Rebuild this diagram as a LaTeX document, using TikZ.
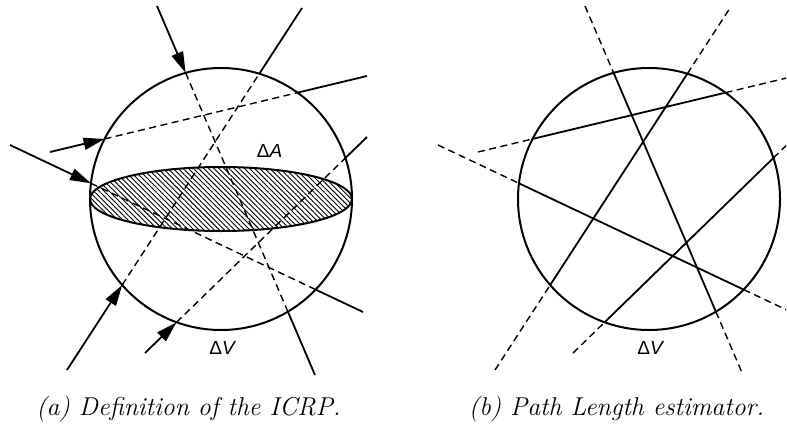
\documentclass[tikz,border=0pt]{standalone}
\usepackage{fontspec}
\newfontfamily\lsans{Liberation Sans}
\usetikzlibrary{arrows.meta,patterns,patterns.meta,intersections}
\begin{document}
\begin{tikzpicture}[x=1pt,y=-1pt,
  ray/.style={line width=1.8pt},
  hid/.style={line width=1.4pt, dash pattern=on 7pt off 4.5pt},
  arr/.style={-{Triangle[length=21pt,width=12pt]}},
  ball/.style={line width=2pt},
  lbl/.style={font=\lsans\fontsize{19}{22}\selectfont, anchor=base, inner sep=0pt},
  captxt/.style={font=\fontsize{25.8}{30}\selectfont\itshape, anchor=base, inner sep=0pt}]
\useasboundingbox (0,0) rectangle (787,423);

% ---------- (a) ----------
\coordinate (C1) at (221,199);
\coordinate (a1) at (157,6);   \coordinate (b1) at (315,375);
\coordinate (a2) at (67,370);  \coordinate (b2) at (302,8);
\coordinate (a3) at (50,152);  \coordinate (b3) at (367,76);
\coordinate (a4) at (10,145);  \coordinate (b4) at (363,312);
\coordinate (a5) at (145,353); \coordinate (b5) at (367,137);
\path[name path=cA] (C1) circle[radius=131];
\path[name path=pA] (a1) -- (b1);
\path[name path=pB] (a2) -- (b2);
\path[name path=pC] (a3) -- (b3);
\path[name path=pD] (a4) -- (b4);
\path[name path=pE] (a5) -- (b5);
\path[name intersections={of=pA and cA, sort by=pA, by={i1,o1}}];
\path[name intersections={of=pB and cA, sort by=pB, by={i2,o2}}];
\path[name intersections={of=pC and cA, sort by=pC, by={i3,o3}}];
\path[name intersections={of=pD and cA, sort by=pD, by={i4,o4}}];
\path[name intersections={of=pE and cA, sort by=pE, by={i5,o5}}];
\draw[ball] (C1) circle[radius=131];
\draw[ball, pattern={Lines[angle=-45,distance=3.6pt,line width=0.9pt]}] (C1) ellipse[x radius=131, y radius=32];
\foreach \k in {1,...,5}{
  \draw[ray,arr] (a\k) -- (i\k);
  \draw[hid] (i\k) -- (o\k);
  \draw[ray] (o\k) -- (b\k);
}
\node[lbl] (dA) at (269.5,157) {Δ\itshape A};
\node[lbl] (dV1) at (222,354) {Δ\itshape V};
\node[captxt] (capa) at (188.5,415) {(a) Definition of the ICRP.};

% ---------- (b) ----------
\begin{scope}[xshift=428pt]
\clip (-428,0) rectangle (358,423);
\coordinate (C2) at (221,199);
\coordinate (A1) at (157,6);   \coordinate (B1) at (315,375);
\coordinate (A2) at (67,370);  \coordinate (B2) at (302,8);
\coordinate (A3) at (50,152);  \coordinate (B3) at (367,76);
\coordinate (A4) at (10,145);  \coordinate (B4) at (363,312);
\coordinate (A5) at (145,353); \coordinate (B5) at (367,137);
\path[name path=cB] (C2) circle[radius=131];
\path[name path=qA] (A1) -- (B1);
\path[name path=qB] (A2) -- (B2);
\path[name path=qC] (A3) -- (B3);
\path[name path=qD] (A4) -- (B4);
\path[name path=qE] (A5) -- (B5);
\path[name intersections={of=qA and cB, sort by=qA, by={I1,O1}}];
\path[name intersections={of=qB and cB, sort by=qB, by={I2,O2}}];
\path[name intersections={of=qC and cB, sort by=qC, by={I3,O3}}];
\path[name intersections={of=qD and cB, sort by=qD, by={I4,O4}}];
\path[name intersections={of=qE and cB, sort by=qE, by={I5,O5}}];
\draw[ball] (C2) circle[radius=131];
\foreach \k in {1,...,5}{
  \draw[hid] (A\k) -- (I\k);
  \draw[ray] (I\k) -- (O\k);
  \draw[hid] (O\k) -- (B\k);
}
\node[lbl] (dV2) at (222,354) {Δ\itshape V};
\node[captxt] (capb) at (188.5,415) {(b) Path Length estimator.};
\end{scope}
\end{tikzpicture}
\end{document}
